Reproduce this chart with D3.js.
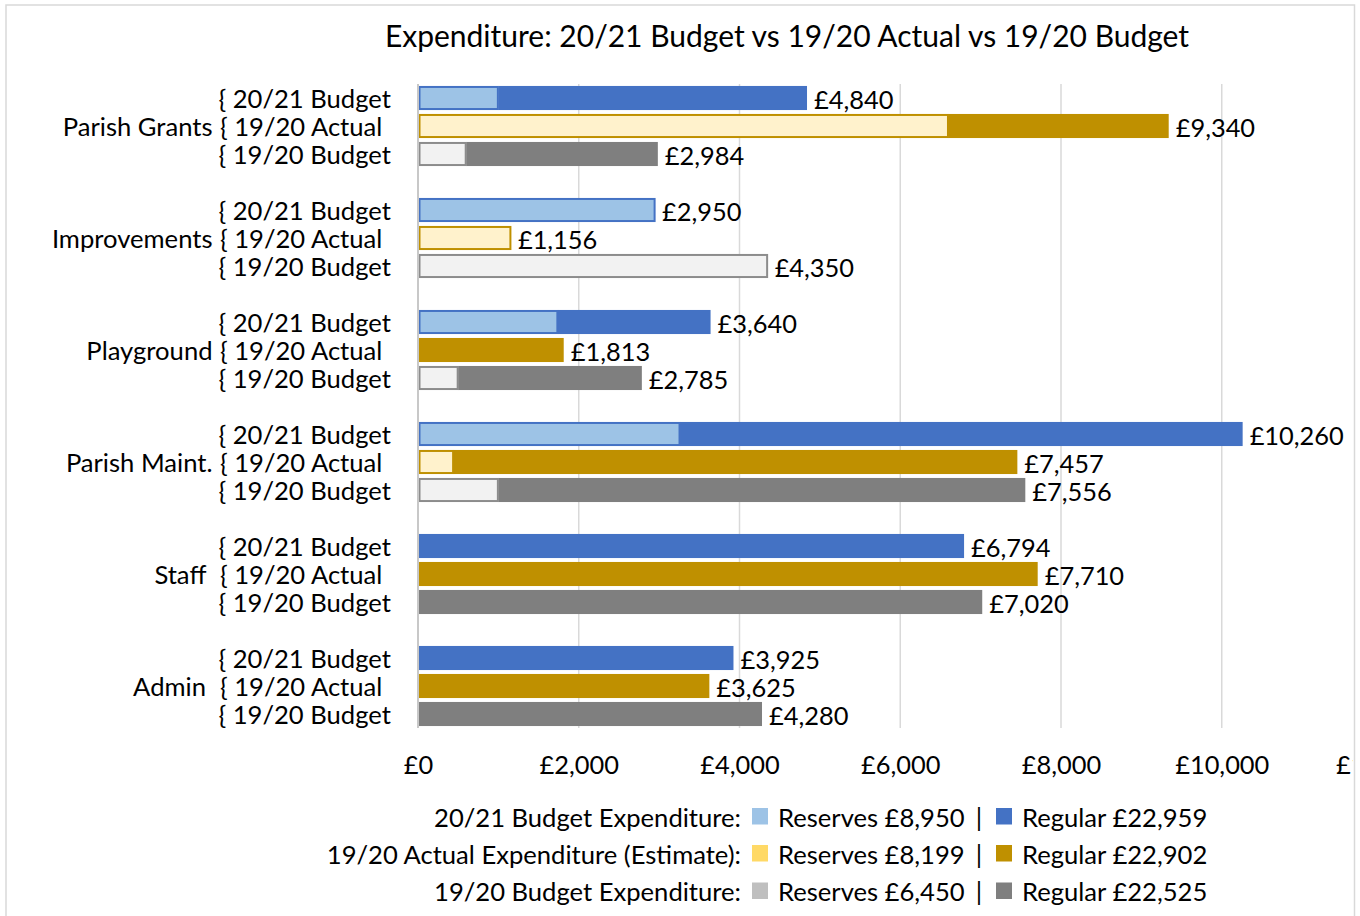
<!DOCTYPE html>
<html><head><meta charset="utf-8">
<script src="https://cdn.jsdelivr.net/npm/d3@7"></script>
<style>
body{margin:0;background:#fff}
svg{display:block}
text{font-family:Lato,"Open Sans",sans-serif;fill:#000}
</style>
</head><body>
<svg id="c" width="1360" height="916"></svg>
<script>
// ---- data ----
const categories = ["Parish Grants", "Improvements", "Playground", "Parish Maint.", "Staff ", "Admin "];
const seriesNames = ["20/21 Budget", "19/20 Actual", "19/20 Budget"];
const reserves2021Budget = [1000, 2950, 1740, 3260, 0, 0];
const regular2021Budget  = [3840, 0, 1900, 7000, 6794, 3925];
const reserves1920Actual = [6600, 1156, 0, 443, 0, 0];
const regular1920Actual  = [2740, 0, 1813, 7014, 7710, 3625];
const reserves1920Budget = [600, 4350, 500, 1000, 0, 0];
const regular1920Budget  = [2384, 0, 2285, 6556, 7020, 4280];
const xTicks = [0, 2000, 4000, 6000, 8000, 10000, 12000];
const legendLabels = ["20/21 Budget Expenditure:", "19/20 Actual Expenditure (Estimate):", "19/20 Budget Expenditure:"];
const legendReserves = [8950, 8199, 6450];
const legendRegular = [22959, 22902, 22525];
const titleText = "Expenditure: 20/21 Budget vs 19/20 Actual vs 19/20 Budget";

// ---- styles ----
const regularColors = ["#4472C4", "#BF9000", "#7F7F7F"];
const reserveFill = ["#9DC3E6", "#FFF2CC", "#F2F2F2"];
const reserveStroke = ["#4472C4", "#BF9000", "#8C8C8C"];
const legendReserveColors = ["#9DC3E6", "#FFD966", "#BFBFBF"];
const FS = 25.6;
const FSV = 25.4;

const reserves = [reserves2021Budget, reserves1920Actual, reserves1920Budget];
const regular = [regular2021Budget, regular1920Actual, regular1920Budget];
const fmt = d => "£" + d3.format(",")(d);

const svg = d3.select("#c");
svg.append("defs").append("clipPath").attr("id", "clip")
  .append("rect").attr("x", 6).attr("y", 5).attr("width", 1347).attr("height", 908);

svg.append("rect").attr("x", 6).attr("y", 5).attr("width", 1348.5).attr("height", 912)
  .attr("fill", "#fff").attr("stroke", "#d9d9d9").attr("stroke-width", 1.5);

const g = svg.append("g").attr("clip-path", "url(#clip)");

const x = d3.scaleLinear().domain([0, 12000]).range([418, 1382.5]);
const y0 = d3.scaleBand().domain(categories).range([84, 728]).paddingInner(0.25);
const y1 = d3.scaleBand().domain(seriesNames).range([0, y0.bandwidth()]).paddingInner(0.14).paddingOuter(0.07);

// title
g.append("text").attr("x", 787).attr("y", 35).attr("text-anchor", "middle")
  .attr("dominant-baseline", "central").style("font-size", "30px").text(titleText);

// gridlines
g.append("g").selectAll("line").data(xTicks.filter(t => t > 0)).join("line")
  .attr("x1", d => x(d)).attr("x2", d => x(d)).attr("y1", 84).attr("y2", 728)
  .attr("stroke", "#d9d9d9").attr("stroke-width", 1.5);

// x axis labels
const xAxis = d3.axisBottom(x).tickValues(xTicks).tickFormat(fmt).tickSize(0).tickPadding(0);
const xa = g.append("g").attr("transform", "translate(0,764)").call(xAxis);
xa.select(".domain").remove();
xa.selectAll("text").attr("dy", null).attr("dominant-baseline", "central")
  .style("font-size", FSV + "px").style("font-family", "Lato,'Open Sans',sans-serif").attr("fill", "#000");

// bars
const rows = categories.flatMap((c, i) => seriesNames.map((s, j) => ({
  c, s, j, res: reserves[j][i], reg: regular[j][i], tot: reserves[j][i] + regular[j][i]
})));
const bw = y1.bandwidth();
const bars = g.append("g");
bars.selectAll("rect.reg").data(rows.filter(d => d.reg > 0)).join("rect").attr("class", "reg")
  .attr("x", d => x(d.res)).attr("width", d => x(d.res + d.reg) - x(d.res))
  .attr("y", d => y0(d.c) + y1(d.s)).attr("height", bw)
  .attr("fill", d => regularColors[d.j]);
bars.selectAll("rect.res").data(rows.filter(d => d.res > 0)).join("rect").attr("class", "res")
  .attr("x", d => x(0) + 1.5).attr("width", d => x(d.res) - x(0) - 2)
  .attr("y", d => y0(d.c) + y1(d.s) + 1).attr("height", bw - 2)
  .attr("fill", d => reserveFill[d.j]).attr("stroke", d => reserveStroke[d.j]).attr("stroke-width", 2);

// value labels
bars.selectAll("text").data(rows).join("text")
  .attr("x", d => x(d.tot) + 7).attr("y", d => y0(d.c) + y1(d.s) + bw / 2 + 1)
  .attr("dominant-baseline", "central").style("font-size", FSV + "px").text(d => fmt(d.tot));

// y axis line
g.append("line").attr("x1", x(0)).attr("x2", x(0)).attr("y1", 84).attr("y2", 728)
  .attr("stroke", "#c8c8c8").attr("stroke-width", 2);

// y labels
const yl = g.append("g");
yl.selectAll("text.s").data(rows).join("text").attr("class", "s")
  .attr("x", d => d.j === 1 ? 220 : 218.5).attr("y", d => y0(d.c) + y1(d.s) + bw / 2)
  .attr("dominant-baseline", "central").style("font-size", FS + "px").text(d => "{ " + d.s);
yl.selectAll("text.c").data(categories).join("text").attr("class", "c")
  .attr("xml:space", "preserve").style("white-space", "pre")
  .attr("x", 212.5).attr("y", c => y0(c) + y1(seriesNames[1]) + bw / 2)
  .attr("text-anchor", "end").attr("dominant-baseline", "central").style("font-size", FS + "px").text(c => c);

// legend
const legendY = [816.5, 853.5, 891];
const lg = g.append("g");
legendLabels.forEach((lab, i) => {
  const yy = legendY[i];
  lg.append("text").attr("x", 741).attr("y", yy).attr("text-anchor", "end")
    .attr("dominant-baseline", "central").style("font-size", FS + "px").text(lab);
  lg.append("rect").attr("x", 752).attr("y", yy - 8.5).attr("width", 16).attr("height", 16.5)
    .attr("fill", legendReserveColors[i]);
  lg.append("text").attr("x", 778).attr("y", yy).attr("dominant-baseline", "central")
    .style("font-size", FS + "px").text("Reserves " + fmt(legendReserves[i]));
  lg.append("text").attr("x", 979).attr("y", yy).attr("text-anchor", "middle").attr("dominant-baseline", "central")
    .style("font-size", FS + "px").text("|");
  lg.append("rect").attr("x", 996).attr("y", yy - 8.5).attr("width", 16).attr("height", 16.5)
    .attr("fill", regularColors[i]);
  lg.append("text").attr("x", 1022).attr("y", yy).attr("dominant-baseline", "central")
    .style("font-size", FS + "px").text("Regular " + fmt(legendRegular[i]));
});
</script>
</body></html>
